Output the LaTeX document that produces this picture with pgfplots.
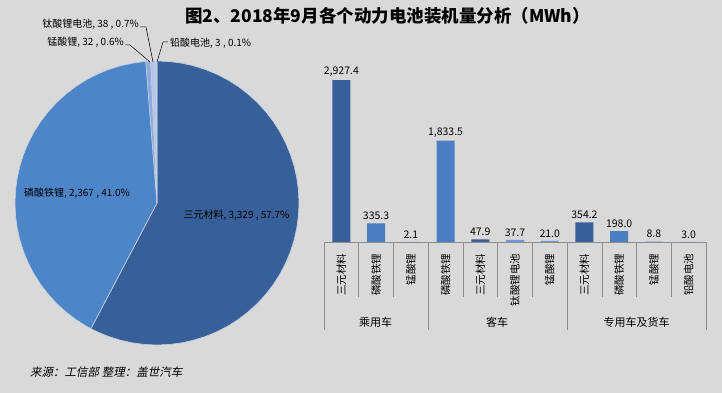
\documentclass[border=0pt]{standalone}
\usepackage{pgfplots}
\pgfplotsset{compat=1.18}
\usepgfplotslibrary{polar}
\usepackage{fontspec}
\setmainfont{Noto Sans CJK SC}
\newfontfamily\cjkit[FakeSlant=0.2]{Noto Sans CJK SC}
\definecolor{bg}{HTML}{D9D9D9}
\definecolor{cDark}{HTML}{37609A}
\definecolor{cMid}{HTML}{4D85C9}
\definecolor{cBarMid}{HTML}{4A7FC1}
\definecolor{cLight}{HTML}{6E97D6}
\definecolor{cMn}{HTML}{8FAADC}
\definecolor{cTi}{HTML}{B4C7E7}
\definecolor{cPb}{HTML}{C9D6EC}
\definecolor{edge}{HTML}{C8D2E2}
\definecolor{tline}{HTML}{8C8C8C}
\begin{document}
\begin{tikzpicture}[x=1pt,y=1pt]
\useasboundingbox (0,0) rectangle (722,393);
\fill[bg] (0,0) rectangle (722,393);
% ---------------- pie (values 3329, 2367, 32, 38, 3 MWh; angles = share x 360, clockwise from top)
\begin{polaraxis}[at={(157pt,190pt)}, anchor=center, scale only axis, width=284pt, height=284pt,
  hide axis, clip=false, ymin=0, ymax=1]
\addplot[fill=cDark, draw=edge, line width=0.6pt] coordinates {(90,0) (90,1) (85,1) (80,1) (75,1) (70,1) (65,1) (60,1) (55,1) (50,1) (45,1) (40,1) (35,1) (30,1) (25,1) (20,1) (15,1) (10,1) (5,1) (0,1) (-5,1) (-10,1) (-15,1) (-20,1) (-25,1) (-30,1) (-35,1) (-40,1) (-45,1) (-50,1) (-55,1) (-60,1) (-65,1) (-70,1) (-75,1) (-80,1) (-85,1) (-90,1) (-95,1) (-100,1) (-105,1) (-110,1) (-115,1) (-117.74,1) (-117.74,0)};
\addplot[fill=cMid, draw=edge, line width=0.6pt] coordinates {(-117.74,0) (-117.74,1) (-120,1) (-125,1) (-130,1) (-135,1) (-140,1) (-145,1) (-150,1) (-155,1) (-160,1) (-165,1) (-170,1) (-175,1) (-180,1) (-185,1) (-190,1) (-195,1) (-200,1) (-205,1) (-210,1) (-215,1) (-220,1) (-225,1) (-230,1) (-235,1) (-240,1) (-245,1) (-250,1) (-255,1) (-260,1) (-265,1) (-265.45,1) (-265.45,0)};
\addplot[fill=cMn, draw=edge, line width=0.4pt] coordinates {(-265.45,0) (-265.45,1) (-266.5,1) (-267.44,1) (-267.44,0)};
\addplot[fill=cTi, draw=edge, line width=0.4pt] coordinates {(-267.44,0) (-267.44,1) (-268.6,1) (-269.81,1) (-269.81,0)};
\addplot[fill=cPb, draw=edge, line width=0.4pt] coordinates {(-269.81,0) (-269.81,1) (-270,1) (-270,0)};
\end{polaraxis}
% pie labels
\node[font=\fontsize{10}{12}\selectfont] at (236.5,178) {三元材料, 3,329 , 57.7\%};
\node[font=\fontsize{10}{12}\selectfont] at (77,200) {磷酸铁锂, 2,367 , 41.0\%};
\node[font=\fontsize{10}{12}\selectfont, anchor=east, inner sep=0pt] at (139,369) {钛酸锂电池, 38 , 0.7\%};
\node[font=\fontsize{10}{12}\selectfont, anchor=east, inner sep=0pt] at (124,351) {锰酸锂, 32 , 0.6\%};
\node[font=\fontsize{10}{12}\selectfont, anchor=west, inner sep=0pt] at (170,350) {铅酸电池, 3 , 0.1\%};
\draw[black, line width=0.5pt] (140,366) -- (146,366) -- (153,331);
\draw[black, line width=0.5pt] (125,348) -- (130,348) -- (150,331);
\draw[black, line width=0.5pt] (168,351) -- (163,351) -- (157,331);
% ---------------- bars
\begin{axis}[at={(324pt,151pt)}, anchor=south west, scale only axis, width=382pt, height=177pt,
  xmin=-0.5, xmax=10.5, ymin=0, ymax=3200,
  axis x line*=bottom, axis y line=none, axis line style={-, draw=tline, line width=0.6pt},
  xtick={0,...,10},
  xticklabels={三元材料,磷酸铁锂,锰酸锂,磷酸铁锂,三元材料,钛酸锂电池,锰酸锂,三元材料,磷酸铁锂,锰酸锂,铅酸电池},
  xticklabel style={yshift=-8pt, rotate=90, anchor=east, font=\fontsize{10.5}{12}\selectfont},
  major tick length=0pt, minor tick length=55pt, tick align=outside,
  minor xtick={-0.5,0.5,...,10.5},
  extra x ticks={-0.5,2.5,6.5,10.5}, extra x tick labels={},
  extra x tick style={major tick length=88pt},
  tick style={draw=tline, line width=0.6pt},
  nodes near coords={\pgfmathprintnumber[fixed,fixed zerofill,precision=1,1000 sep={,}]{\pgfplotspointmeta}},
  every node near coord/.append style={font=\fontsize{10.5}{12}\selectfont, black},
  /pgf/number format/assume math mode=true,
  clip=false]
\addplot[ybar, bar width=18pt, bar shift=0pt, fill=cDark, draw=none] coordinates {(0,2927.4) (4,47.9) (7,354.2)};
\addplot[ybar, bar width=18pt, bar shift=0pt, fill=cBarMid, draw=none] coordinates {(1,335.3) (3,1833.5) (8,198.0)};
\addplot[ybar, bar width=18pt, bar shift=0pt, fill=cLight, draw=none] coordinates {(2,2.1) (5,37.7) (6,21.0) (9,8.8) (10,3.0)};
\end{axis}
% group labels
\node[font=\fontsize{11}{13}\selectfont] at (375.5,71) {乘用车};
\node[font=\fontsize{11}{13}\selectfont] at (497,71) {客车};
\node[font=\fontsize{11}{13}\selectfont] at (636.5,71) {专用车及货车};
% title and source
\node[font=\bfseries\fontsize{17.5}{20}\selectfont] at (387.5,377) {图2、2018年9月各个动力电池装机量分析（MWh）};
\node[font=\cjkit\fontsize{11.5}{13}\selectfont, anchor=west, inner sep=0pt] at (30,21) {来源：工信部 整理：盖世汽车};
\end{tikzpicture}
\end{document}
